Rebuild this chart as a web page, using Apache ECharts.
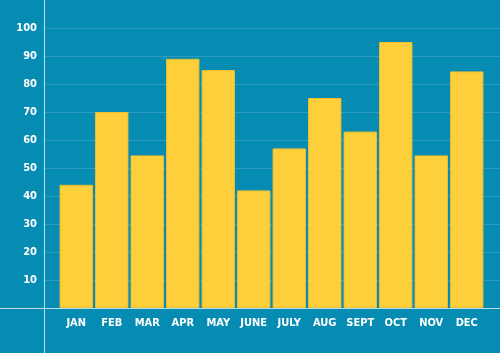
<!DOCTYPE html>
<html><head><meta charset="utf-8">
<script src="https://cdn.jsdelivr.net/npm/echarts@6/dist/echarts.min.js"></script>
<style>html,body{margin:0;padding:0;background:#068bb2;}#c{width:500px;height:353px;}</style>
</head><body><div id="c"></div>
<script>
const categories = ['JAN','FEB','MAR','APR','MAY','JUNE','JULY','AUG','SEPT','OCT','NOV','DEC'];
const values = [44, 70, 54.5, 89, 85, 42, 57, 75, 63, 95, 54.5, 84.5];
const yTicks = {min: 0, max: 100, interval: 10};

const chart = echarts.init(document.getElementById('c'), null, {renderer: 'canvas'});
const font = '"DejaVu Sans Condensed", "Liberation Sans Narrow", sans-serif';
chart.setOption({
  backgroundColor: '#068bb2',
  animation: false,
  grid: [
    {left: 44, right: 0, top: 28, bottom: 45},
    {left: 58.5, right: 15.5, top: 28, bottom: 45}
  ],
  xAxis: [
    {gridIndex: 0, type: 'value', show: false},
    {gridIndex: 1, type: 'category', data: categories,
     axisLine: {show: false}, axisTick: {show: false},
     axisLabel: {interval: 0, color: '#ffffff', fontFamily: font, fontWeight: 'bold', fontSize: 11, margin: 10}}
  ],
  yAxis: [
    {gridIndex: 0, type: 'value', min: yTicks.min, max: yTicks.max, interval: yTicks.interval,
     axisLine: {show: false}, axisTick: {show: false},
     axisLabel: {color: '#ffffff', fontFamily: font, fontWeight: 'bold', fontSize: 11, margin: 7,
       formatter: v => v === 0 ? '' : v},
     splitLine: {lineStyle: {color: '#2b9dc2', width: 1}}},
    {gridIndex: 1, type: 'value', min: yTicks.min, max: yTicks.max, show: false}
  ],
  series: [{
    type: 'bar', xAxisIndex: 1, yAxisIndex: 1, data: values,
    barCategoryGap: '6%',
    itemStyle: {color: '#fdd03b', borderColor: '#eebf2e', borderWidth: 1}
  }],
  graphic: [
    {type: 'line', shape: {x1: 44.5, y1: 0, x2: 44.5, y2: 353}, style: {stroke: '#b9dfeb', lineWidth: 1}, z: 10},
    {type: 'line', shape: {x1: 0, y1: 308.5, x2: 500, y2: 308.5}, style: {stroke: '#b9dfeb', lineWidth: 1}, z: 10}
  ]
});
</script></body></html>
